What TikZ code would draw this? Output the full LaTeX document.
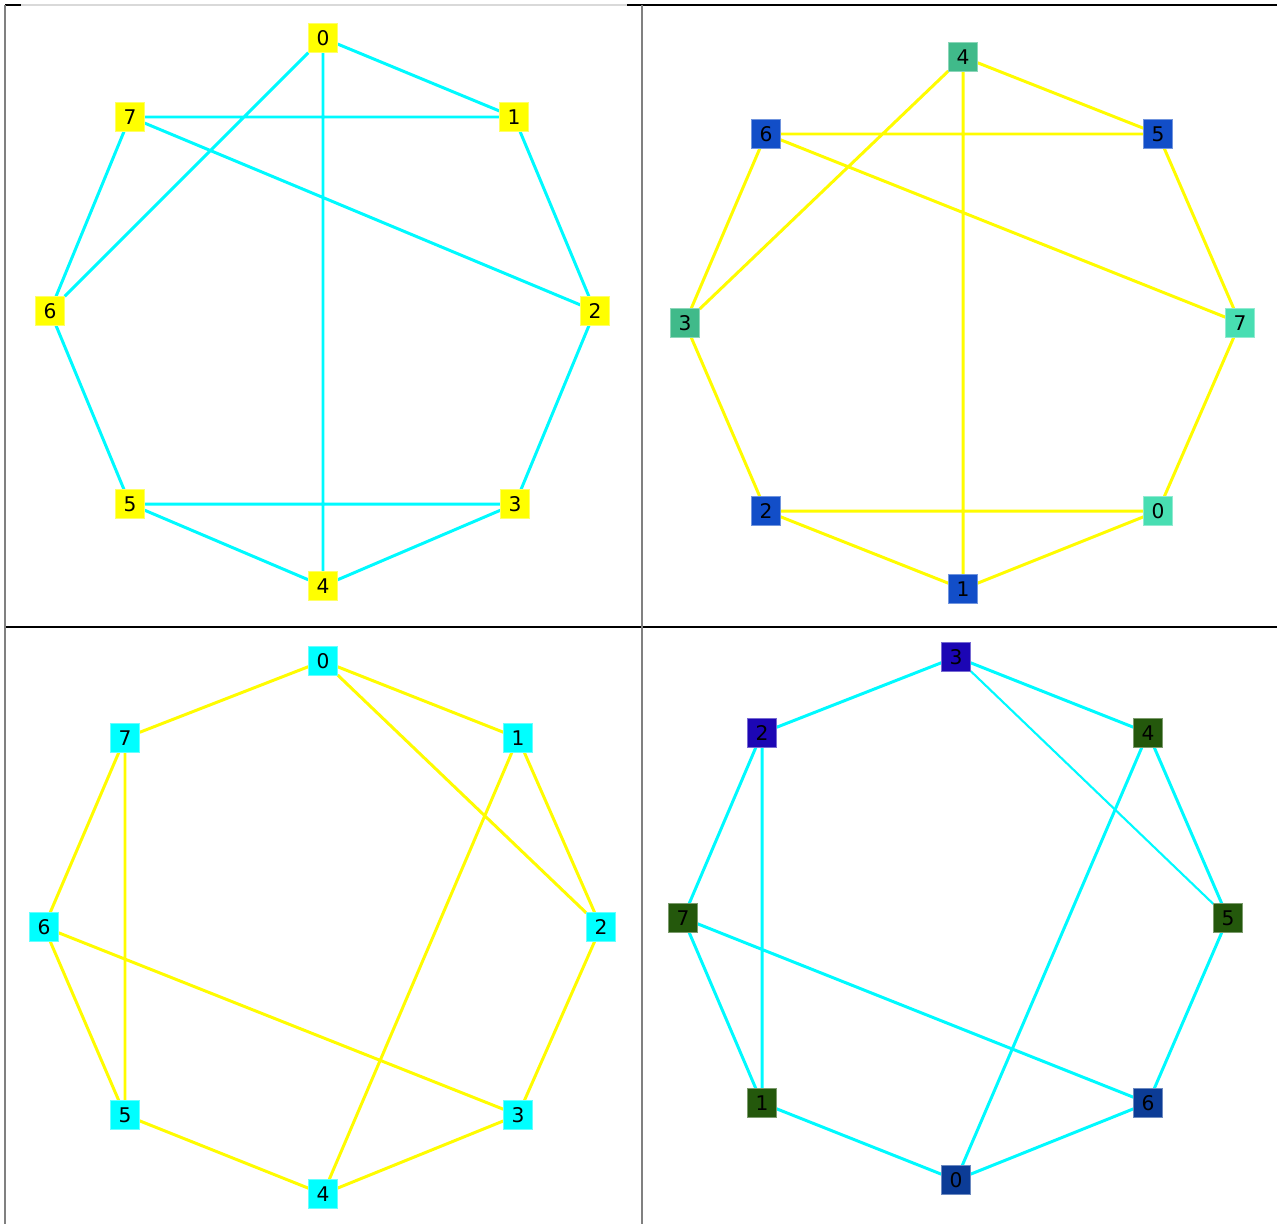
\documentclass[tikz,border=0pt]{standalone}
\usepackage{fontspec}
\setsansfont{DejaVu Sans}
\usepackage{xcolor}
\usetikzlibrary{backgrounds}
\definecolor{edgecyan}{RGB}{0,250,255}
\definecolor{edgeyellow}{RGB}{255,252,0}
\definecolor{boxyellow}{RGB}{255,255,0}
\definecolor{boxcyan}{RGB}{0,255,255}
\definecolor{seagreen}{RGB}{64,186,138}
\definecolor{aquagreen}{RGB}{72,222,178}
\definecolor{royalblue}{RGB}{18,78,200}
\definecolor{violetblue}{RGB}{28,6,180}
\definecolor{mossgreen}{RGB}{36,88,12}
\definecolor{navyblue}{RGB}{12,60,150}
\begin{document}
\begin{tikzpicture}[x=0.02cm, y=-0.02cm,
    vtx/.style={rectangle, draw=#1!60!white, fill=#1, line width=0.5pt, inner sep=0pt,
                minimum width=0.57cm, minimum height=0.57cm,
                font=\sffamily\fontsize{11.5}{13}\selectfont},
    cyanedge/.style={draw=edgecyan, line width=1.7pt},
    yellowedge/.style={draw=edgeyellow, line width=1.7pt},
    frame/.style={line width=0.8pt}
]
\useasboundingbox (0,0) rectangle (1277,1224);
% panel frames
\draw[frame, black!15] (21,5) -- (627,5);
\draw[frame] (5,5) -- (21,5) (627,5) -- (1277,5);
\draw[frame] (5,627) -- (1277,627);
\draw[frame, black!50] (5,5) -- (5,1224) (642,5) -- (642,1224);

% top left
\node[vtx=boxyellow] (tl0) at (323,38)  {0};
\node[vtx=boxyellow] (tl1) at (514,117) {1};
\node[vtx=boxyellow] (tl2) at (595,311) {2};
\node[vtx=boxyellow] (tl3) at (515,504) {3};
\node[vtx=boxyellow] (tl4) at (323,586) {4};
\node[vtx=boxyellow] (tl5) at (130,504) {5};
\node[vtx=boxyellow] (tl6) at (50,311)  {6};
\node[vtx=boxyellow] (tl7) at (130,117) {7};
\begin{scope}[on background layer]
\draw[cyanedge] (tl0) -- (tl1) (tl0) -- (tl6) (tl0) -- (tl4)
    (tl7) -- (tl1) (tl7) -- (tl2) (tl7) -- (tl6)
    (tl1) -- (tl2) (tl2) -- (tl3) (tl3) -- (tl5)
    (tl3) -- (tl4) (tl5) -- (tl4) (tl6) -- (tl5);
\end{scope}

% top right
\node[vtx=seagreen]  (tr4) at (963,57)   {4};
\node[vtx=royalblue] (tr5) at (1158,134) {5};
\node[vtx=aquagreen] (tr7) at (1240,323) {7};
\node[vtx=aquagreen] (tr0) at (1158,511) {0};
\node[vtx=royalblue] (tr1) at (963,589)  {1};
\node[vtx=royalblue] (tr2) at (766,511)  {2};
\node[vtx=seagreen]  (tr3) at (685,323)  {3};
\node[vtx=royalblue] (tr6) at (766,134)  {6};
\begin{scope}[on background layer]
\draw[yellowedge] (tr4) -- (tr5) (tr4) -- (tr3) (tr4) -- (tr1)
    (tr6) -- (tr5) (tr6) -- (tr7) (tr6) -- (tr3)
    (tr5) -- (tr7) (tr7) -- (tr0) (tr3) -- (tr2)
    (tr2) -- (tr0) (tr2) -- (tr1) (tr1) -- (tr0);
\end{scope}

% bottom left
\node[vtx=boxcyan] (bl0) at (323,661)  {0};
\node[vtx=boxcyan] (bl1) at (518,738)  {1};
\node[vtx=boxcyan] (bl2) at (601,927)  {2};
\node[vtx=boxcyan] (bl3) at (518,1115) {3};
\node[vtx=boxcyan] (bl4) at (323,1194) {4};
\node[vtx=boxcyan] (bl5) at (125,1115) {5};
\node[vtx=boxcyan] (bl6) at (44,927)   {6};
\node[vtx=boxcyan] (bl7) at (125,738)  {7};
\begin{scope}[on background layer]
\draw[yellowedge] (bl0) -- (bl7) (bl0) -- (bl1) (bl0) -- (bl2)
    (bl7) -- (bl6) (bl7) -- (bl5) (bl1) -- (bl2)
    (bl1) -- (bl4) (bl6) -- (bl5) (bl6) -- (bl3)
    (bl2) -- (bl3) (bl3) -- (bl4) (bl5) -- (bl4);
\end{scope}

% bottom right
\node[vtx=violetblue] (br3) at (956,657)   {3};
\node[vtx=mossgreen]  (br4) at (1148,733)  {4};
\node[vtx=mossgreen]  (br5) at (1228,918)  {5};
\node[vtx=navyblue]   (br6) at (1148,1103) {6};
\node[vtx=navyblue]   (br0) at (956,1180)  {0};
\node[vtx=mossgreen]  (br1) at (762,1103)  {1};
\node[vtx=mossgreen]  (br7) at (683,918)   {7};
\node[vtx=violetblue] (br2) at (762,733)   {2};
\begin{scope}[on background layer]
\draw[cyanedge] (br3) -- (br2) (br3) -- (br4) (br2) -- (br7)
    (br2) -- (br1) (br4) -- (br0) (br4) -- (br5)
    (br7) -- (br6) (br7) -- (br1) (br5) -- (br6)
    (br1) -- (br0) (br0) -- (br6);
\draw[cyanedge, line width=1.2pt] (br3) -- (br5);
\end{scope}
\end{tikzpicture}
\end{document}
